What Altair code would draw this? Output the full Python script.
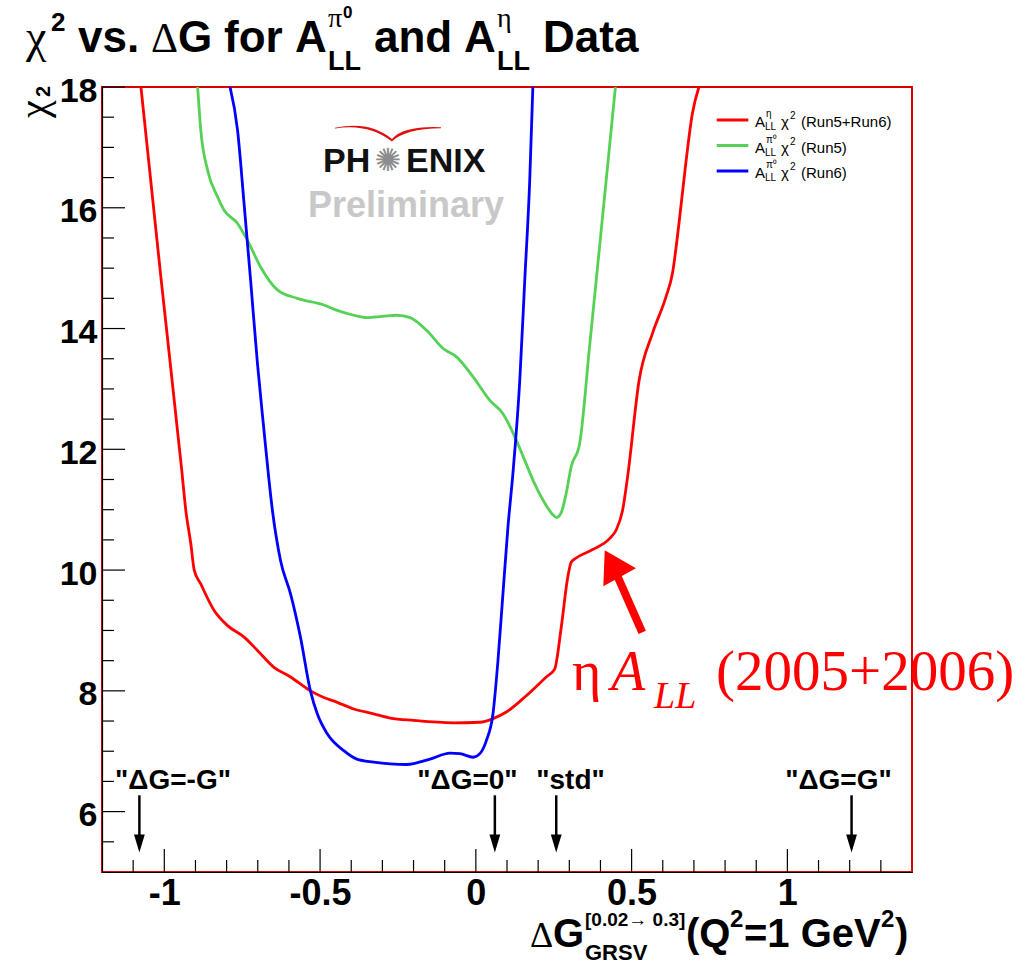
import altair as alt
import pandas as pd

# ---------------- data ----------------
red_x = [-1.075, -1.011, -0.944, -0.931, -0.915, -0.904, -0.883, -0.840, -0.797, -0.744, -0.701,
         -0.648, -0.595, -0.531, -0.488, -0.445, -0.392, -0.328, -0.275, -0.200, -0.073, 0.013,
         0.055, 0.098, 0.162, 0.226, 0.253, 0.274, 0.295, 0.306, 0.322, 0.375, 0.429, 0.450,
         0.471, 0.487, 0.524, 0.567, 0.610, 0.631, 0.652, 0.674, 0.695, 0.716]
red_y = [18.0, 14.85, 11.65, 10.99, 10.44, 10.0, 9.77, 9.33, 9.08, 8.89, 8.67,
         8.39, 8.23, 8.0, 7.89, 7.81, 7.70, 7.62, 7.55, 7.51, 7.47, 7.48,
         7.54, 7.65, 7.92, 8.23, 8.36, 9.05, 9.88, 10.13, 10.20, 10.34, 10.52, 10.66,
         10.99, 11.54, 13.14, 13.92, 14.52, 14.91, 15.74, 16.74, 17.56, 18.0]

green_x = [-0.893, -0.883, -0.861, -0.829, -0.808, -0.765, -0.733, -0.691, -0.637, -0.573,
           -0.488, -0.445, -0.392, -0.350, -0.300, -0.254, -0.211, -0.158, -0.105, -0.062,
           -0.009, 0.045, 0.087, 0.130, 0.160, 0.185, 0.220, 0.245, 0.259, 0.274, 0.290,
           0.306, 0.333, 0.365, 0.397, 0.429, 0.448]
green_y = [18.0, 17.29, 16.62, 16.18, 15.96, 15.74, 15.46, 15.02, 14.64, 14.50,
           14.39, 14.30, 14.22, 14.18, 14.20, 14.22, 14.18, 13.97, 13.67, 13.53,
           13.20, 12.81, 12.59, 12.15, 11.78, 11.47, 11.12, 10.93, 10.87, 10.95, 11.27,
           11.71, 12.09, 13.70, 15.35, 17.01, 18.0]

blue_x = [-0.789, -0.765, -0.744, -0.723, -0.701, -0.680, -0.664, -0.653, -0.627, -0.595,
          -0.563, -0.531, -0.509, -0.477, -0.424, -0.382, -0.328, -0.275, -0.222, -0.147,
          -0.083, -0.051, -0.009, 0.013, 0.034, 0.055, 0.071, 0.087, 0.103, 0.119,
          0.141, 0.157, 0.173, 0.183]
blue_y = [18.0, 17.29, 16.07, 14.80, 13.42, 12.31, 11.49, 10.99, 10.16, 9.61,
          8.89, 8.0, 7.62, 7.29, 7.01, 6.87, 6.82, 6.79, 6.78, 6.87,
          6.97, 6.96, 6.90, 6.96, 7.18, 7.62, 8.50, 9.61, 10.71, 11.60,
          13.14, 14.80, 16.46, 18.0]

series_names = ["eta_run5_run6", "pi0_run5", "pi0_run6"]
series_colors = ["#ff0000", "#55d155", "#0000ff"]

x_domain = [-1.2, 1.4]
y_domain = [5, 18]
x_major = [-1, -0.5, 0, 0.5, 1]
y_major = [6, 8, 10, 12, 14, 16, 18]
x_minor = [round(-1.1 + 0.1 * i, 2) for i in range(25)]
y_minor = [5.5 + 0.5 * i for i in range(25)]

scen_labels = ['"\u0394G=-G"', '"\u0394G=0"', '"std"', '"\u0394G=G"']
scen_arrow_x = [-1.08, 0.061, 0.258, 1.206]
scen_label_x = [-0.972, -0.027, 0.304, 1.164]

# ---------------- layout constants ----------------
W, H = 810, 785
L, T = 102, 87
SANS = "Liberation Sans"
SERIF = "Liberation Serif"

xs = alt.Scale(domain=x_domain, nice=False, zero=False)
ys = alt.Scale(domain=y_domain, nice=False, zero=False)

rows = []
for name, xv, yv in zip(series_names, [red_x, green_x, blue_x], [red_y, green_y, blue_y]):
    for a, b in zip(xv, yv):
        rows.append({"series": name, "x": a, "y": b})
curves_df = pd.DataFrame(rows)

x_axis = alt.Axis(values=x_major, labelExpr="toString(datum.value)", title=None, ticks=False,
                  tickSize=0, grid=False, domain=True, domainColor="black", domainWidth=1.2,
                  labelFont=SANS, labelFontWeight="bold", labelFontSize=36, labelColor="black",
                  labelPadding=4, labelFlush=False, labelOverlap=False, labelBound=False)
y_axis = alt.Axis(values=y_major, labelExpr="toString(datum.value)", title=None, ticks=False,
                  tickSize=0, grid=False, domain=True, domainColor="black", domainWidth=1.2,
                  labelFont=SANS, labelFontWeight="bold", labelFontSize=34, labelColor="black",
                  labelPadding=5, labelOffset=4, labelFlush=False, labelOverlap=False,
                  labelBound=False)

def X(field):
    return alt.X(field, scale=xs, axis=x_axis)

def Y(field):
    return alt.Y(field, scale=ys, axis=y_axis)

curves = alt.Chart(curves_df).mark_line(strokeWidth=2.8, clip=True, interpolate="monotone").encode(
    x=X("x:Q"), y=Y("y:Q"),
    color=alt.Color("series:N", scale=alt.Scale(domain=series_names, range=series_colors),
                    legend=None),
    detail="series:N",
)

# inward ticks
def yticks(vals, length):
    return alt.Chart(pd.DataFrame({"y": vals})).mark_rule(color="black", strokeWidth=1.2).encode(
        y=Y("y:Q"), x=alt.value(0), x2=alt.value(length))

def xticks(vals, length):
    return alt.Chart(pd.DataFrame({"x": vals})).mark_rule(color="black", strokeWidth=1.2).encode(
        x=X("x:Q"), y=alt.value(H), y2=alt.value(H - length))

ticks = [yticks(y_major, 23), yticks([v for v in y_minor if v not in y_major], 12),
         xticks(x_major, 23), xticks([v for v in x_minor if v not in x_major], 12)]

# scenario arrows
scen_df = pd.DataFrame({"x": scen_arrow_x, "lx": scen_label_x, "lab": scen_labels})
shaft = alt.Chart(scen_df).mark_rule(color="black", strokeWidth=2.5).encode(
    x=X("x:Q"), y=Y("y:Q"), y2="y2:Q").transform_calculate(y="6.27", y2="5.50")
HEAD_DOWN = "M-0.6,-1L0.6,-1L0,1Z"
heads = alt.Chart(scen_df).mark_point(shape=HEAD_DOWN, size=324, filled=True, color="black",
                                      opacity=1).encode(
    x=X("x:Q"), y=Y("y:Q")).transform_calculate(y="5.47")
scen_text = alt.Chart(scen_df).mark_text(font=SANS, fontWeight="bold", fontSize=28,
                                          color="black", align="center",
                                          baseline="alphabetic").encode(
    x=X("lx:Q"), y=Y("y:Q"), text="lab:N").transform_calculate(y="6.38")

# red annotation arrow (data coords)
ann_df = pd.DataFrame({"x": [0.534], "y": [8.97], "x2": [0.452], "y2": [9.93]})
red_shaft = alt.Chart(ann_df).mark_rule(color="#ff0000", strokeWidth=8).encode(
    x=X("x:Q"), y=Y("y:Q"), x2="x2:Q", y2="y2:Q")
HEAD_UP = "M0,-1L0.91,0.5L-0.91,0.5Z"
red_head = alt.Chart(pd.DataFrame({"x": [0.4456], "y": [10.03]})).mark_point(
    shape=HEAD_UP, size=1681, filled=True, color="#ff0000", opacity=1, angle=331).encode(
    x=X("x:Q"), y=Y("y:Q"))

# ---------------- free text helper (page pixel positions) ----------------
one = alt.Data(values=[{"k": 0}])

def txt(s, x, y, size, font=SANS, weight="normal", style="normal", color="black",
        align="left", baseline="alphabetic", angle=None):
    kw = dict(text=s, fontSize=size, font=font, fontWeight=weight, fontStyle=style,
              color=color, align=align, baseline=baseline)
    if angle is not None:
        kw["angle"] = angle
    return alt.Chart(one).mark_text(**kw).encode(x=alt.value(x - L), y=alt.value(y - T))

texts = []
# title
TB = 52
S = 44
texts += [
    txt("\u03c7", 26, TB, 46, font=SERIF),
    txt("2", 51, 31, 26, weight="bold"),
    txt("vs.", 78, TB, S, weight="bold"),
    txt("\u0394", 151, TB, 42, font=SERIF),
    txt("G", 178, TB, S, weight="bold"),
    txt("for", 224, TB, S, weight="bold"),
    txt("A", 295, TB, S, weight="bold"),
    txt("\u03c0", 328, 27, 28, font=SERIF),
    txt("0", 343, 18, 17, weight="bold"),
    txt("LL", 328, 70, 27, weight="bold"),
    txt("and", 374, TB, S, weight="bold"),
    txt("A", 464, TB, S, weight="bold"),
    txt("\u03b7", 497, 27, 28, font=SERIF),
    txt("LL", 497, 70, 27, weight="bold"),
    txt("Data", 543, TB, S, weight="bold"),
]
# y axis title
texts += [
    txt("\u03c7", 47, 118, 40, font=SERIF, angle=270),
    txt("2", 50, 97, 20, weight="bold", angle=270),
]
# x axis title
XB = 947
texts += [
    txt("\u0394", 530, XB, 36, font=SERIF),
    txt("G", 553, XB, 40, weight="bold"),
    txt("[0.02\u2192 0.3]", 585, 926, 19, weight="bold"),
    txt("GRSV", 585, 960, 22, weight="bold"),
    txt("(Q", 686, XB, 40, weight="bold"),
    txt("2", 730, 927, 24, weight="bold"),
    txt("=1 GeV", 744, XB, 40, weight="bold"),
    txt("2", 881, 927, 24, weight="bold"),
    txt(")", 895, XB, 40, weight="bold"),
]
# PHENIX logo
texts += [
    txt("PH", 323, 172, 34, weight="bold", color="#111111"),
    txt("\u273a", 388, 161, 32, font="DejaVu Sans", color="#8c8c8c", align="center",
        baseline="middle"),
    txt("ENIX", 406, 172, 34, weight="bold", color="#111111"),
    txt("Preliminary", 308, 217, 36, weight="bold", color="#c8c8c8"),
]
SWOOSH = ("M-1,-0.06 Q-0.35,-0.2 0.075,0.15 Q0.3,-0.1 1,-0.07 L1,-0.05 "
          "Q0.32,-0.04 0.075,0.2 Q-0.38,-0.15 -1,-0.045 Z")
swoosh = alt.Chart(one).mark_point(shape=SWOOSH, size=11236, filled=True, color="#e01010",
                                   opacity=1).encode(x=alt.value(388 - L), y=alt.value(131 - T))

# annotation text
texts += [
    txt("\u03b7", 572, 690, 56, font=SERIF, color="#ff0000"),
    txt("A", 611, 690, 56, font=SERIF, style="italic", color="#ff0000"),
    txt("LL", 654, 708, 38, font=SERIF, style="italic", color="#ff0000"),
    txt("(2005+2006)", 716, 690, 57, font=SERIF, color="#ff0000"),
]

# legend
leg_rows = [120, 145.5, 171]
leg_sup = ["\u03b7", "\u03c0\u2070", "\u03c0\u2070"]
leg_txt = ["(Run5+Run6)", "(Run5)", "(Run6)"]
legend_layers = []
for ry, col, sup, lab in zip(leg_rows, series_colors, leg_sup, leg_txt):
    legend_layers.append(alt.Chart(one).mark_rule(color=col, strokeWidth=2.8).encode(
        x=alt.value(716.7 - L), x2=alt.value(748.3 - L), y=alt.value(ry - T)))
    texts += [
        txt("A", 755, ry + 7, 15),
        txt(sup, 766, ry - 3, 10),
        txt("LL", 765, ry + 10, 10),
        txt("\u03c7", 781, ry + 7, 15),
        txt("2", 790, ry - 1, 10),
        txt(lab, 801, ry + 7, 15),
    ]

chart = alt.layer(
    curves, *ticks, shaft, heads, scen_text, red_shaft, red_head, swoosh,
    *legend_layers, *texts
).properties(
    width=W, height=H,
    autosize=alt.AutoSizeParams(type="none"),
    padding={"left": L, "top": T, "right": 1027 - L - W, "bottom": 968 - T - H},
).configure(background="white").configure_view(stroke="#dd0000", strokeWidth=2)

chart.save("out.html", embed_options={"renderer": "svg", "actions": False})
